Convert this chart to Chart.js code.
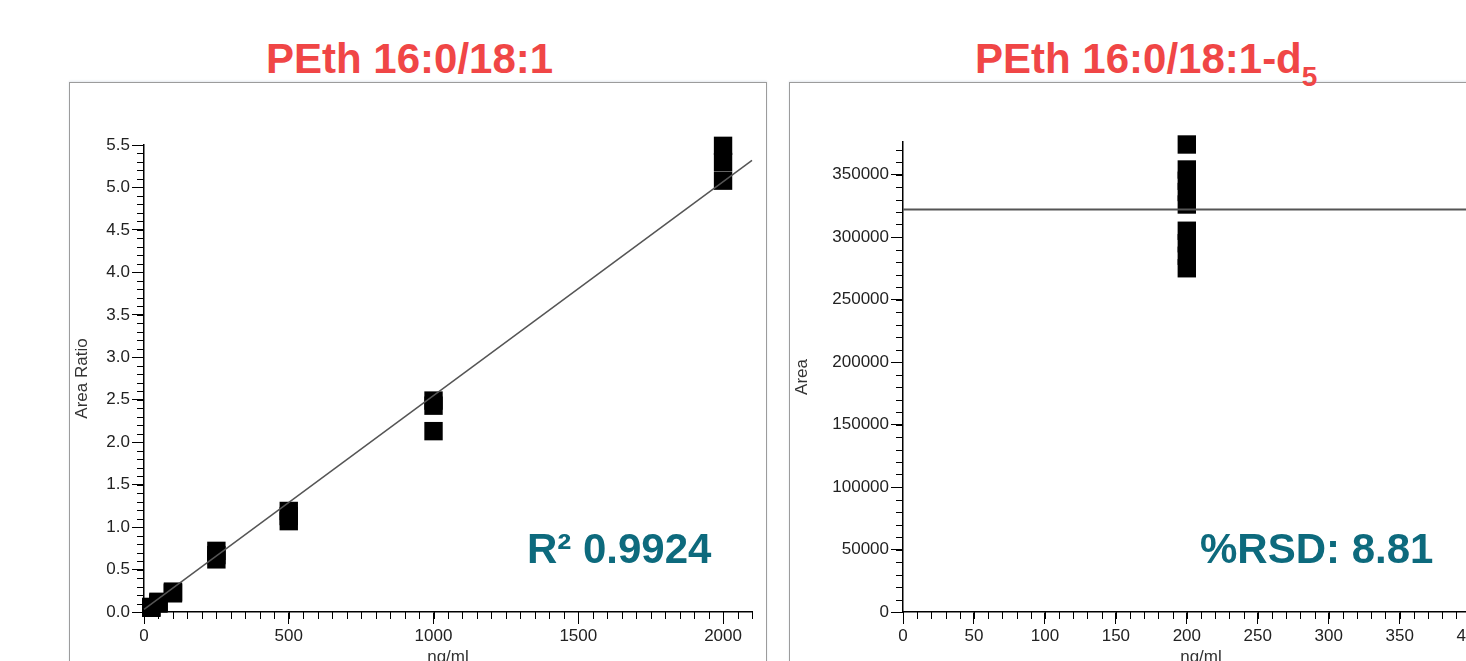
<!DOCTYPE html>
<html>
<head>
<meta charset="utf-8">
<script src="https://cdn.jsdelivr.net/npm/chart.js@4"></script>
<style>
  html, body { margin: 0; padding: 0; }
  body { width: 1466px; height: 661px; overflow: hidden; position: relative; background: #fff;
         font-family: "Liberation Sans", Arial, sans-serif; }
  .panel { position: absolute; top: 82px; height: 640px; border: 1px solid #9c9c9c;
           box-shadow: 0 -1px 2px #e4e8ee; }
  .title { position: absolute; top: 38px; font-size: 42px; line-height: 42px; font-weight: bold;
           color: #f04646; white-space: nowrap; }
  .note { position: absolute; top: 528px; font-size: 42px; line-height: 42px; font-weight: bold;
          color: #0d6a7d; white-space: nowrap; }
  canvas { position: absolute; top: 82px; }
</style>
</head>
<body>
<div class="panel" style="left:69px; width:696px;"></div>
<div class="panel" style="left:789px; width:760px;"></div>
<div class="title" style="left:266px;">PEth 16:0/18:1</div>
<div class="title" style="left:975px;">PEth 16:0/18:1-d<span style="font-size:28px; position:relative; top:13px;">5</span></div>

<canvas id="calChart" width="697" height="594" style="left:69px;"></canvas>
<canvas id="isChart" width="740" height="594" style="left:789px;"></canvas>

<div class="note" style="left:527px;">R² 0.9924</div>
<div class="note" style="left:1200px;">%RSD: 8.81</div>

<script>
// calibration curve, PEth 16:0/18:1 (3 replicates per level)
const calConc  = [25, 25, 25, 50, 50, 50, 100, 100, 100, 250, 250, 250, 500, 500, 500, 1000, 1000, 1000, 2000, 2000, 2000];
const calRatio = [0.05, 0.05, 0.06, 0.10, 0.11, 0.12, 0.22, 0.23, 0.24, 0.62, 0.67, 0.72, 1.07, 1.13, 1.19, 2.13, 2.43, 2.49, 5.08, 5.30, 5.49];
// regression line end points
const fitConc  = [0, 2100];
const fitRatio = [0.03, 5.32];
const calXTicks = [0, 500, 1000, 1500, 2000];
const calYTicks = [0, 0.5, 1.0, 1.5, 2.0, 2.5, 3.0, 3.5, 4.0, 4.5, 5.0, 5.5];

// internal standard areas, PEth 16:0/18:1-d5
const isConc = [200, 200, 200, 200, 200, 200, 200, 200, 200];
const isArea = [374000, 354000, 345000, 336000, 326000, 305000, 295000, 285000, 275000];
const meanConc = [0, 420];
const meanArea = [322000, 322000];
const isXTicks = [0, 50, 100, 150, 200, 250, 300, 350, 400];
const isYTicks = [0, 50000, 100000, 150000, 200000, 250000, 300000, 350000];

const pts = (xs, ys) => xs.map((x, i) => ({x: x, y: ys[i]}));

// small ticks between the labelled ones
const minorTicks = {
  id: 'minorTicks',
  beforeDatasetsDraw(chart, args, opts) {
    const ctx = chart.ctx;
    ctx.save();
    ctx.strokeStyle = '#000';
    ctx.lineWidth = 1;
    ctx.beginPath();
    ['x', 'y'].forEach(id => {
      const s = chart.scales[id];
      const n = Math.floor((s.max - s.min) / opts[id] + 1e-6);
      for (let i = 0; i <= n; i++) {
        const p = Math.round(s.getPixelForValue(s.min + i * opts[id])) + 0.5;
        if (id === 'x') { ctx.moveTo(p, s.top); ctx.lineTo(p, s.top + 7); }
        else { ctx.moveTo(s.right - 7, p); ctx.lineTo(s.right, p); }
      }
    });
    ctx.stroke();
    ctx.restore();
  }
};

const tickFont = {family: 'Liberation Sans, Arial, sans-serif', size: 17};

function axis(min, max, tickVals, title, fmt, fit) {
  return {
    type: 'linear',
    min: min,
    max: max,
    border: {color: '#000', width: 1.5},
    grid: {drawOnChartArea: false, tickLength: 12, tickColor: '#000', tickWidth: 1},
    ticks: {autoSkip: false, maxRotation: 0, padding: 2, color: '#222', font: tickFont, callback: fmt},
    title: {display: true, text: title, color: '#333', font: tickFont, padding: {top: 3, bottom: 4}},
    afterBuildTicks: s => { s.ticks = tickVals.map(v => ({value: v})); },
    afterFit: fit
  };
}

function squares(xs, ys) {
  return {data: pts(xs, ys), pointStyle: 'rect', pointRadius: 13, pointHoverRadius: 13,
          backgroundColor: '#000', borderWidth: 0, clip: false};
}

function fitLine(xs, ys, w) {
  return {data: pts(xs, ys), showLine: true, pointRadius: 0, borderColor: '#555',
          borderWidth: w, clip: false};
}

const plain = v => String(v);

new Chart(document.getElementById('calChart'), {
  type: 'scatter',
  data: {datasets: [fitLine(fitConc, fitRatio, 1.5), squares(calConc, calRatio)]},
  options: {
    responsive: false,
    animation: false,
    layout: {padding: {left: 0, right: 14, top: 63, bottom: 4}},
    plugins: {legend: {display: false}, tooltip: {enabled: false}, minorTicks: {x: 50, y: 0.1}},
    scales: {
      x: axis(0, 2100, calXTicks, 'ng/ml', plain, s => { s.height = 60; }),
      y: axis(0, 5.5, calYTicks, 'Area Ratio', v => v.toFixed(1), s => { s.width = 75; })
    }
  },
  plugins: [minorTicks]
});

new Chart(document.getElementById('isChart'), {
  type: 'scatter',
  data: {datasets: [fitLine(meanConc, meanArea, 2), squares(isConc, isArea)]},
  options: {
    responsive: false,
    animation: false,
    layout: {padding: {left: 0, right: 30, top: 60, bottom: 4}},
    plugins: {legend: {display: false}, tooltip: {enabled: false}, minorTicks: {x: 10, y: 10000}},
    scales: {
      x: axis(0, 420, isXTicks, 'ng/ml', plain, s => { s.height = 60; }),
      y: axis(0, 376000, isYTicks, 'Area', plain, s => { s.width = 114; })
    }
  },
  plugins: [minorTicks]
});
</script>
</body>
</html>
